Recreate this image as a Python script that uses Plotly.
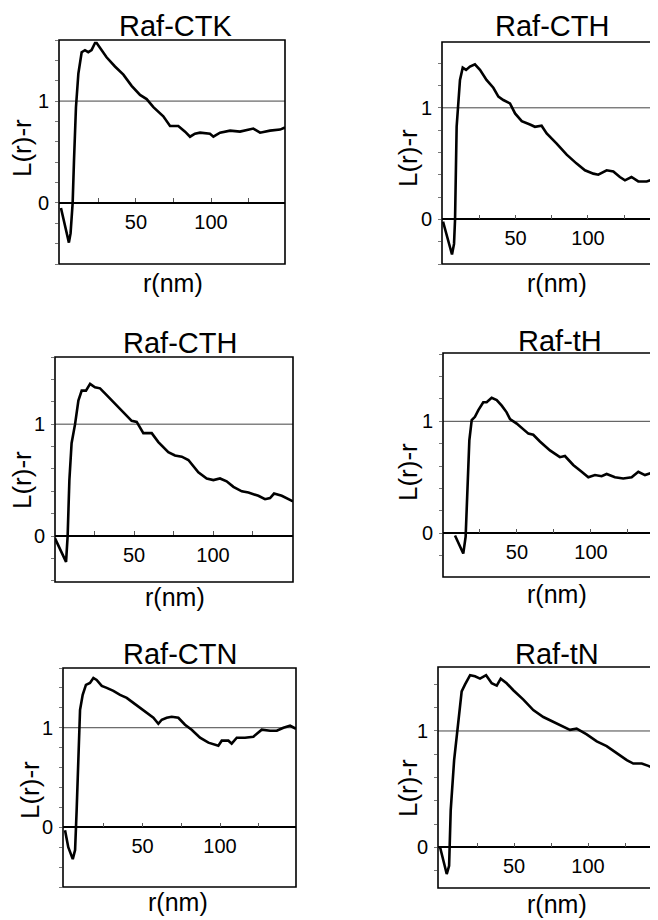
import plotly.graph_objects as go

# the page body keeps an 8px margin, so the figure is placed 8px in and is 8px smaller
OFF = 8
W, H = 658 - OFF, 920 - OFF

# ---- data ----
titles = ["Raf-CTK", "Raf-CTH", "Raf-CTH", "Raf-tH", "Raf-CTN", "Raf-tN"]

r_ctk = [0, 5.3, 6.4, 7.8, 8.7, 10, 11.6, 13.8, 16, 18.2, 20.4, 22.7, 23.8, 26, 30.4, 36, 41.6, 47.1,
         52.7, 57.1, 61.6, 68.2, 72.7, 78.2, 82.7, 86, 89.3, 92.7, 99.3, 101.6, 106, 112.7, 119.3,
         128.2, 132.7, 139.3, 146, 149.3]
l_ctk = [-0.05, -0.39, -0.3, 0.0, 0.42, 0.94, 1.27, 1.48, 1.5, 1.48, 1.5, 1.57, 1.57, 1.52, 1.43, 1.34,
         1.26, 1.15, 1.06, 1.02, 0.94, 0.85, 0.755, 0.755, 0.7, 0.65, 0.68, 0.69, 0.68, 0.65, 0.69,
         0.71, 0.7, 0.73, 0.69, 0.71, 0.72, 0.74]

r_cth1 = [0, 6.2, 7.6, 8.3, 9.4, 10.6, 11.7, 13.6, 15.9, 18.6, 22, 25.5, 30, 34.7, 38.2, 41.6, 46.2,
          49.7, 54.3, 60, 63.4, 68, 71.5, 78.4, 85.3, 92.2, 97.9, 103.7, 107.1, 112.9, 117.5, 122,
          125.5, 130, 134.7, 140.5, 148.3]
l_cth1 = [-0.02, -0.315, -0.22, 0.0, 0.83, 1.07, 1.25, 1.36, 1.34, 1.37, 1.39, 1.34, 1.25, 1.18, 1.1,
          1.07, 1.04, 0.95, 0.88, 0.85, 0.83, 0.84, 0.77, 0.68, 0.58, 0.5, 0.44, 0.41, 0.4, 0.44, 0.43,
          0.38, 0.35, 0.38, 0.34, 0.34, 0.37]

r_cth2 = [0, 4.2, 7, 8, 9.1, 10.5, 12.7, 14.8, 16.9, 19.6, 22.2, 25.3, 28.5, 32.7, 38, 43.2, 48.5,
          51.7, 55.9, 61.2, 65.4, 71.7, 75.9, 80.2, 84.4, 90.7, 96, 100.2, 104.4, 108.6, 112.9, 118.2,
          122.4, 128.7, 132.9, 136.1, 138.6, 143.5, 150.6]
l_cth2 = [-0.02, -0.14, -0.23, 0.0, 0.5, 0.83, 1.0, 1.21, 1.3, 1.3, 1.36, 1.33, 1.32, 1.26, 1.18,
          1.11, 1.03, 1.02, 0.92, 0.92, 0.84, 0.75, 0.72, 0.71, 0.68, 0.57, 0.515, 0.5, 0.515, 0.49,
          0.44, 0.4, 0.39, 0.36, 0.33, 0.34, 0.38, 0.36, 0.31]

r_th = [8.1, 10.4, 13.7, 15.3, 16.4, 17.8, 19.4, 21.6, 23.9, 27.2, 29.5, 32.9, 36.3, 39.7, 43, 45.3,
        49.8, 54.3, 57.7, 61, 65.5, 72.3, 79, 82.4, 88, 93.7, 98.2, 102.7, 107.2, 110.6, 116.2,
        121.8, 127.5, 132, 136.5, 141, 145.3]
l_th = [-0.02, -0.09, -0.18, -0.03, 0.41, 0.83, 1.01, 1.04, 1.1, 1.17, 1.17, 1.21, 1.19, 1.14, 1.08,
        1.02, 0.98, 0.93, 0.89, 0.88, 0.82, 0.74, 0.68, 0.69, 0.61, 0.55, 0.5, 0.52, 0.51, 0.53, 0.5,
        0.49, 0.5, 0.55, 0.52, 0.54, 0.53]

r_ctn = [0, 2.1, 5, 6.5, 7.5, 8.6, 9.7, 11.4, 13.5, 16.1, 18.3, 20.4, 23.7, 26.9, 31.2, 35.5, 39.8,
         44.1, 48.4, 52.7, 57, 60.2, 62.4, 65.6, 68.8, 73.1, 77.4, 81.7, 87.1, 92.5, 98.9, 101.1,
         105.4, 107.5, 110.8, 116.1, 121.5, 126.9, 132.3, 136.6, 140.9, 145.2, 149]
l_ctn = [-0.03, -0.2, -0.32, -0.23, 0.17, 0.78, 1.18, 1.33, 1.43, 1.45, 1.5, 1.48, 1.42, 1.4, 1.37,
         1.33, 1.3, 1.25, 1.2, 1.15, 1.1, 1.04, 1.08, 1.1, 1.11, 1.1, 1.03, 0.98, 0.9, 0.85, 0.82,
         0.87, 0.87, 0.84, 0.9, 0.9, 0.91, 0.98, 0.97, 0.97, 1.0, 1.02, 0.99]

r_tn = [0, 2.3, 4.5, 6.1, 7.2, 9.5, 11.3, 13, 14.6, 16.9, 20.3, 23.6, 27, 31.1, 34.9, 38.3, 41, 45,
        49.5, 56.3, 63, 69.8, 76.6, 83.3, 87.8, 92.3, 99.1, 105.9, 112.6, 119.4, 126.2, 130.6,
        136.3, 140.8, 147.3]
l_tn = [0.0, -0.13, -0.23, -0.16, 0.32, 0.75, 0.98, 1.18, 1.34, 1.4, 1.48, 1.47, 1.45, 1.48, 1.41,
        1.39, 1.45, 1.41, 1.35, 1.27, 1.18, 1.12, 1.08, 1.04, 1.01, 1.02, 0.97, 0.91, 0.87, 0.81,
        0.75, 0.72, 0.72, 0.7, 0.66]

x_tickvals = [25, 50, 75, 100, 125]
x_ticktext = ["", "50", "", "100", ""]
y_tickvals = [-0.6, -0.4, -0.2, 0, 0.2, 0.4, 0.6, 0.8, 1, 1.2, 1.4, 1.6]
y_ticktext = ["", "", "", "0", "", "", "", "", "1", "", "", ""]

series = [(r_ctk, l_ctk), (r_cth1, l_cth1), (r_cth2, l_cth2), (r_th, l_th), (r_ctn, l_ctn), (r_tn, l_tn)]

# panel boxes in page pixels: left, right, top, bottom, x range, y range
panels = [
    (59, 285, 40, 264, [-1.3, 149.3], [-0.6, 1.6]),
    (442, 658, 42, 264, [-0.7, 148.3], [-0.40, 1.59]),
    (55, 293, 357, 582, [0, 150.6], [-0.41, 1.6]),
    (443, 658, 353, 577, [0, 145.3], [-0.39, 1.61]),
    (63, 296, 668, 887, [-1.3, 149], [-0.6, 1.6]),
    (438, 658, 667, 888, [-1.4, 147.3], [-0.35, 1.55]),
]
title_pos = [(175, 26), (552, 26), (180, 343), (560, 341), (180, 654), (557, 654)]
xlab_pos = [(173, 283), (557, 283), (175, 597), (557, 594), (178, 902), (557, 904)]
ylab_pos = [(22, 148), (408, 158), (22, 480), (408, 472), (30, 790), (408, 788)]

FONT = "Liberation Sans, Arial, sans-serif"

fig = go.Figure()
layout = dict(width=W, height=H, margin=dict(l=0, r=0, t=0, b=0),
              paper_bgcolor="white", plot_bgcolor="white", showlegend=False)
shapes = []
annotations = []


def px(x):
    return (x - OFF) / W


def py(y):
    return 1 - (y - OFF) / H


for i, ((rr, ll), (L, R, T, B, xr, yr)) in enumerate(zip(series, panels)):
    n = i + 1
    xa = "x" if n == 1 else "x%d" % n
    ya = "y" if n == 1 else "y%d" % n
    fig.add_trace(go.Scatter(x=rr, y=ll, mode="lines", xaxis=xa, yaxis=ya,
                             line=dict(color="black", width=2.6), hoverinfo="skip"))
    ydom = [py(B), py(T)]
    zero_pos = ydom[0] + (0 - yr[0]) / (yr[1] - yr[0]) * (ydom[1] - ydom[0])
    layout["xaxis" + ("" if n == 1 else str(n))] = dict(
        domain=[px(L), min(px(R), 1)], range=xr, anchor="free", position=zero_pos,
        showline=True, linecolor="black", linewidth=1.5, showgrid=False, zeroline=False,
        tickmode="array", tickvals=x_tickvals, ticktext=x_ticktext,
        ticks="inside", ticklen=4, tickcolor="#555", tickwidth=1,
        tickfont=dict(family=FONT, size=20, color="black"), ticklabelstandoff=1)
    layout["yaxis" + ("" if n == 1 else str(n))] = dict(
        domain=ydom, range=yr, anchor=xa, showline=False, showgrid=False, zeroline=False,
        tickmode="array", tickvals=y_tickvals, ticktext=y_ticktext,
        ticks="outside", ticklen=3, tickcolor="#777", tickwidth=1,
        tickfont=dict(family=FONT, size=20, color="black"), ticklabelstandoff=2)
    # frame and the L(r)-r = 1 line; right-hand panels run off the page edge
    x1 = 1.2 if R >= 658 else 1
    shapes.append(dict(type="line", xref=xa + " domain", yref=ya, x0=0, x1=x1, y0=1, y1=1,
                       line=dict(color="#444", width=1), layer="below"))
    shapes.append(dict(type="rect", xref=xa + " domain", yref=ya + " domain", x0=0, x1=x1, y0=0, y1=1,
                       line=dict(color="black", width=1.6), layer="above"))
    tx, ty = title_pos[i]
    annotations.append(dict(text=titles[i], x=px(tx), y=py(ty), xref="paper", yref="paper",
                            showarrow=False, xanchor="center", yanchor="middle",
                            font=dict(family=FONT, size=29, color="black")))
    lx, ly = xlab_pos[i]
    annotations.append(dict(text="r(nm)", x=px(lx), y=py(ly), xref="paper", yref="paper",
                            showarrow=False, xanchor="center", yanchor="middle",
                            font=dict(family=FONT, size=25, color="black")))
    vx, vy = ylab_pos[i]
    annotations.append(dict(text="L(r)-r", x=px(vx), y=py(vy), xref="paper", yref="paper",
                            showarrow=False, xanchor="center", yanchor="middle", textangle=-90,
                            font=dict(family=FONT, size=26, color="black")))

layout["shapes"] = shapes
layout["annotations"] = annotations
fig.update_layout(**layout)
fig.write_html("out.html")
